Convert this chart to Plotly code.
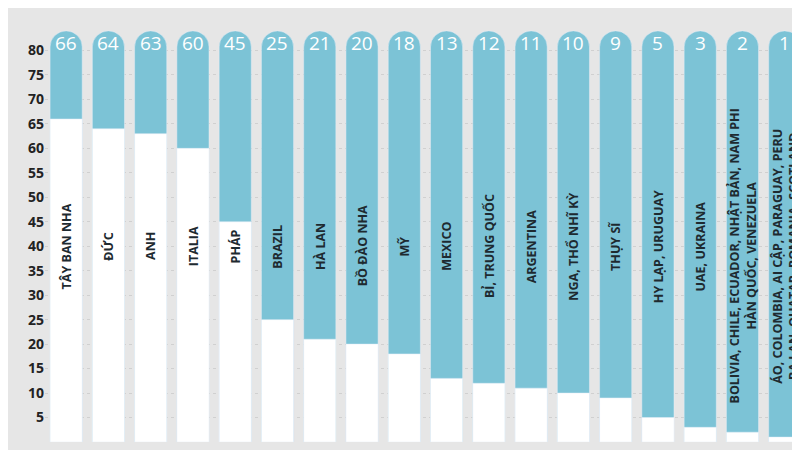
import plotly.graph_objects as go

values = [66, 64, 63, 60, 45, 25, 21, 20, 18, 13, 12, 11, 10, 9, 5, 3, 2, 1]
labels = ["TÂY BAN NHA", "ĐỨC", "ANH", "ITALIA", "PHÁP", "BRAZIL", "HÀ LAN", "BỒ ĐÀO NHA", "MỸ",
          "MEXICO", "BỈ, TRUNG QUỐC", "ARGENTINA", "NGA, THỔ NHĨ KỲ", "THỤY SĨ", "HY LẠP, URUGUAY",
          "UAE, UKRAINA", "BOLIVIA, CHILE, ECUADOR, NHẬT BẢN, NAM PHI<br>HÀN QUỐC, VENEZUELA",
          "ÁO, COLOMBIA, AI CẬP, PARAGUAY, PERU<br>BA LAN, QUATAR, ROMANIA, SCOTLAND"]
tick_vals = list(range(5, 85, 5))
top_value = 84
x = list(range(len(values)))

fig = go.Figure()
fig.add_bar(x=x, y=[top_value] * len(x), marker=dict(color="#7cc3d6", cornerradius=16),
            width=0.76, hoverinfo="skip")
fig.add_bar(x=x, y=values, marker=dict(color="#ffffff", cornerradius=16), width=0.76)

ann = []
for i, (v, lab) in enumerate(zip(values, labels)):
    ann.append(dict(x=i, y=81.5, text=str(v), showarrow=False,
                    font=dict(family="Open Sans", size=19, color="white")))
    ann.append(dict(x=i, y=38 if "<br>" in lab else 40, text="<b>" + lab + "</b>", textangle=-90,
                    showarrow=False, font=dict(family="Open Sans", size=12.5, color="#1e2a30")))

fig.update_layout(
    width=800, height=450, barmode="overlay",
    paper_bgcolor="#e6e6e6", plot_bgcolor="#e6e6e6", showlegend=False,
    margin=dict(l=37, r=0, t=18, b=16), annotations=ann,
    xaxis=dict(range=[-0.5, len(x) - 0.45], showticklabels=False, showgrid=False, zeroline=False),
    yaxis=dict(range=[0, 85], tickvals=tick_vals, showgrid=True, gridcolor="#d0d0d0", griddash="dot",
               zeroline=False, tickfont=dict(family="Open Sans", size=14, color="#222222", weight="bold"),
               ticklen=0, ticksuffix=" "),
)
fig.write_html("out.html")
